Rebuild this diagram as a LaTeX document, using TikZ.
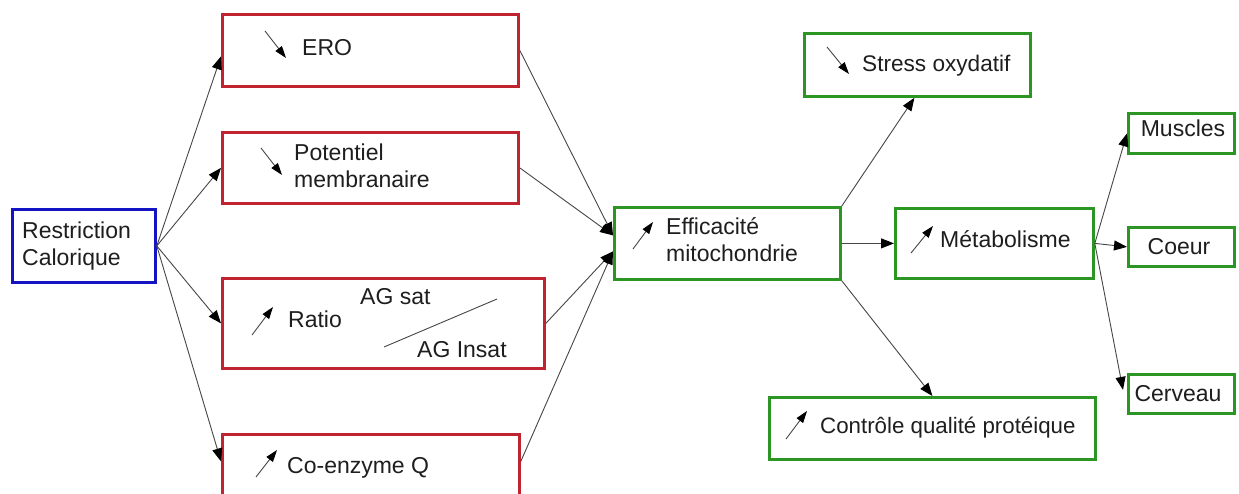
\documentclass[tikz,border=0pt]{standalone}
\usepackage{fontspec}
\setmainfont{Liberation Sans}
\usetikzlibrary{arrows.meta}
\definecolor{cred}{RGB}{192,36,48}
\definecolor{cblue}{RGB}{20,20,195}
\definecolor{cgreen}{RGB}{44,150,36}
\definecolor{cline}{RGB}{70,70,70}
\definecolor{ctext}{RGB}{30,30,30}
\begin{document}
\begin{tikzpicture}[x=1pt,y=-1pt,
  box/.style={draw,line width=2.8pt,inner sep=0pt,anchor=north west},
  redbox/.style={box,draw=cred},
  bluebox/.style={box,draw=cblue},
  greenbox/.style={box,draw=cgreen},
  lbl/.style={inner sep=0pt,text=ctext,font=\fontsize{23}{27}\selectfont},
  link/.style={draw=cline,line width=0.9pt,-{Triangle[length=13pt,width=10pt,color=black]}},
  mini/.style={draw=cline,line width=0.9pt,-{Triangle[length=12pt,width=8pt,color=black]}},
  slash/.style={draw=cline,line width=0.9pt}]
\useasboundingbox (0,0) rectangle (1239,494);
\fill[white] (0,0) rectangle (1239,494);
\clip (0,0) rectangle (1239,494);

% boxes
\node[bluebox,minimum width=143pt,minimum height=73pt] (rc) at (11,208) {};
\node[redbox,minimum width=296pt,minimum height=72pt] (ero) at (221,13) {};
\node[redbox,minimum width=296pt,minimum height=71pt] (pot) at (221,131) {};
\node[redbox,minimum width=322pt,minimum height=90pt] (rat) at (221,277) {};
\node[redbox,minimum width=297pt,minimum height=64pt] (coq) at (221,433) {};
\node[greenbox,minimum width=226pt,minimum height=72pt] (eff) at (613,206) {};
\node[greenbox,minimum width=226pt,minimum height=63pt] (str) at (803,32) {};
\node[greenbox,minimum width=198pt,minimum height=70pt] (met) at (894,207) {};
\node[greenbox,minimum width=106pt,minimum height=40pt] (mus) at (1127,112) {};
\node[greenbox,minimum width=106pt,minimum height=39pt] (coe) at (1127,226) {};
\node[greenbox,minimum width=106pt,minimum height=39pt] (cer) at (1127,373) {};
\node[greenbox,minimum width=326pt,minimum height=62pt] (ctl) at (768,396) {};

% texts
\node[lbl,anchor=west,align=left] (trc) at (22,246) {Restriction\\Calorique};
\node[lbl,anchor=base west] (tero) at (302,56) {ERO};
\node[lbl,anchor=west,align=left] (tpot) at (294,166) {Potentiel\\membranaire};
\node[lbl,anchor=base west] (trat) at (288,327) {Ratio};
\node[lbl,anchor=base west] (tsat) at (360,305) {AG sat};
\node[lbl,anchor=base west] (tins) at (417,357) {AG Insat};
\node[lbl,anchor=base west] (tcoq) at (287,473) {Co-enzyme Q};
\node[lbl,anchor=west,align=left] (teff) at (666,240) {Efficacit\'e\\mitochondrie};
\node[lbl,anchor=base west,font=\fontsize{22.6}{27}\selectfont] (tstr) at (862,71.5) {Stress oxydatif};
\node[lbl,anchor=base west] (tmet) at (940,248) {M\'etabolisme};
\node[lbl,anchor=base] (tmus) at (1183,137) {Muscles};
\node[lbl,anchor=base] (tcoe) at (1179,255) {Coeur};
\node[lbl,anchor=base] (tcer) at (1178,401.5) {Cerveau};
\node[lbl,anchor=base west,font=\fontsize{22.3}{27}\selectfont] (tctl) at (820,433) {Contr\^ole qualit\'e prot\'eique};

% ratio slash
\draw[slash] (384,347) -- (497,299);

% small trend arrows
\draw[mini] (265,31) -- (286,58);
\draw[mini] (261,148) -- (282,175);
\draw[mini] (252,335) -- (273,307);
\draw[mini] (256,477) -- (277,450);
\draw[mini] (633,249) -- (653,222);
\draw[mini] (827,47) -- (849,74);
\draw[mini] (911,253) -- (933,226);
\draw[mini] (786,439) -- (807,411);

% connectors
\draw[link] (rc.east) -- ([yshift=-6pt]ero.west);
\draw[link] (rc.east) -- (pot.west);
\draw[link] (rc.east) -- (rat.west);
\draw[link] (rc.east) -- ([yshift=5pt]coq.west);
\draw[link] (ero.east) -- ([yshift=8pt]eff.west);
\draw[link] (pot.east) -- ([yshift=8pt]eff.west);
\draw[link] (rat.east) -- ([yshift=-8pt]eff.west);
\draw[link] ([yshift=5pt]coq.east) -- ([yshift=-8pt]eff.west);
\draw[link] (eff.north east) -- ([xshift=-3pt]str.south);
\draw[link] (eff.east) -- (met.west);
\draw[link] (eff.south east) -- (ctl.north);
\draw[link] (met.east) -- (mus.west);
\draw[link] (met.east) -- (coe.west);
\draw[link] (met.east) -- ([xshift=-4pt,yshift=4pt]cer.west);
\end{tikzpicture}
\end{document}
